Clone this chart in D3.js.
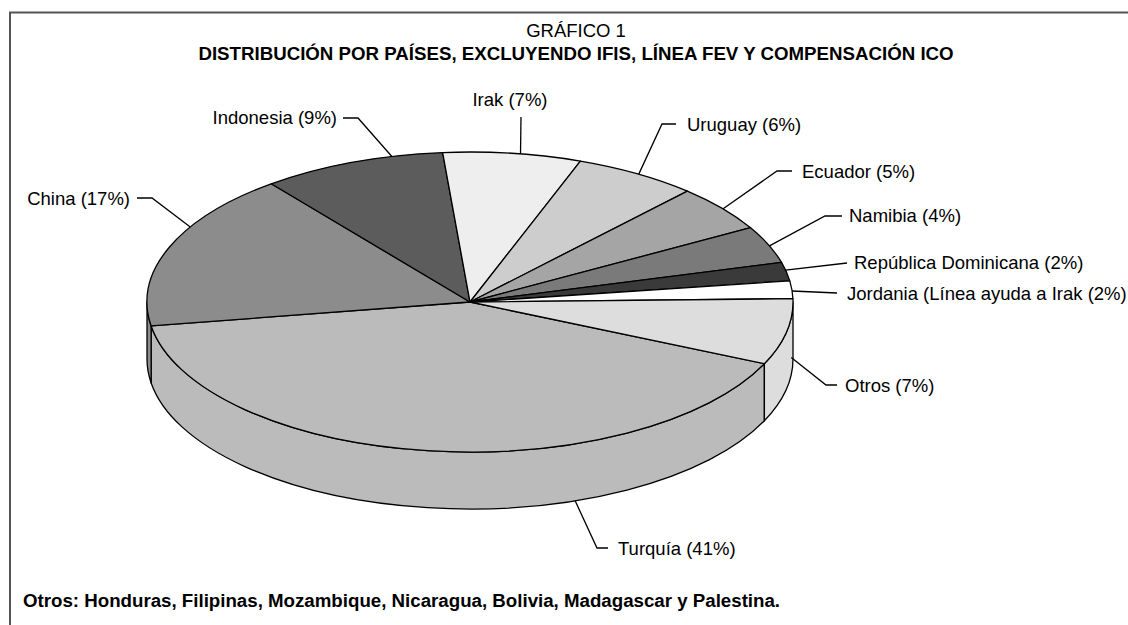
<!DOCTYPE html>
<html>
<head>
<meta charset="utf-8">
<script src="https://cdn.jsdelivr.net/npm/d3@7"></script>
<style>
  body { margin: 0; background: #fff; }
  text { font-family: "Liberation Sans", Arial, sans-serif; fill: #000; }
</style>
</head>
<body>
<svg id="chart" width="1128" height="625"></svg>
<script>
'use strict'

// data
const countries = ['Turquía', 'China', 'Indonesia', 'Irak', 'Uruguay', 'Ecuador', 'Namibia',
                   'República Dominicana', 'Jordania (Línea ayuda a Irak', 'Otros']
const shares = [40.7, 17.0, 9.2, 6.9, 6.2, 5.0, 4.0, 2.0, 1.9, 7.1]
const shareLabels = [41, 17, 9, 7, 6, 5, 4, 2, 2, 7]
const greys = ['#bbbbbb', '#8c8c8c', '#5c5c5c', '#eeeeee', '#cdcdcd', '#a5a5a5', '#7a7a7a', '#3a3a3a', '#ffffff', '#dddddd']

// label placement (anchor = angle on the rim in degrees, z = fraction of the side wall)
const labelLayout = [
  {anchor: 71,    z: 1,   pts: [[597, 548], [608, 548]], tx: 618, ty: 555, ta: 'start'},
  {anchor: 210,   z: 0,   pts: [[152, 198], [137, 198]], tx: 130, ty: 205, ta: 'end'},
  {anchor: 256,   z: 0,   pts: [[358, 118], [343, 118]], tx: 337, ty: 124, ta: 'end'},
  {anchor: 279,   z: 0,   pts: [[521, 117]],             tx: 510, ty: 106, ta: 'middle'},
  {anchor: 301.5, z: 0,   pts: [[662, 124], [676, 124]], tx: 687, ty: 131, ta: 'start'},
  {anchor: 321.6, z: 0,   pts: [[777, 171], [792, 171]], tx: 802, ty: 178, ta: 'start'},
  {anchor: 338,   z: 0,   pts: [[825, 216], [842, 216]], tx: 849, ty: 222, ta: 'start'},
  {anchor: 347.7, z: 0,   pts: [[847, 263]],             tx: 854, ty: 269, ta: 'start'},
  {anchor: 355.8, z: 0,   pts: [[837, 293]],             tx: 847, ty: 300, ta: 'start'},
  {anchor: 6,     z: 0.7, pts: [[826, 385], [837, 385]], tx: 845, ty: 392, ta: 'start'}
]

const cx = 470, cy = 302, rx = 323, ry = 150, depth = 57
const rad = d => d * Math.PI / 180
const startDeg = 114.3 // d3.pie angle (from 12 o'clock) where Turquía begins

const svg = d3.select('#chart')

const color = d3.scaleOrdinal().domain(countries).range(greys)

const pie = d3.pie()
  .sort(null)
  .value(d => d.value)
  .startAngle(rad(startDeg))
  .endAngle(rad(startDeg) + 2 * Math.PI)

const slices = pie(countries.map((c, i) => ({name: c, value: shares[i], pct: shareLabels[i]})))
// screen angle: 0 = east, clockwise
slices.forEach(s => { s.t0 = s.startAngle - Math.PI / 2; s.t1 = s.endAngle - Math.PI / 2 })

const pt = (t, z = 0) => [cx + rx * Math.cos(t), cy + ry * Math.sin(t) + z]

function topPath(s) {
  const a = pt(s.t0), b = pt(s.t1)
  const large = (s.t1 - s.t0) > Math.PI ? 1 : 0
  return `M${cx},${cy}L${a}A${rx},${ry} 0 ${large} 1 ${b}Z`
}

function sidePieces(s) {
  const out = []
  for (const k of [-1, 0, 1]) {
    const lo = Math.max(s.t0, 2 * Math.PI * k), hi = Math.min(s.t1, 2 * Math.PI * k + Math.PI)
    if (hi > lo) out.push({data: s.data, s0: lo, s1: hi})
  }
  return out
}

function sidePath(p) {
  const a = pt(p.s0), b = pt(p.s1), c = pt(p.s1, depth), d = pt(p.s0, depth)
  return `M${a}A${rx},${ry} 0 0 1 ${b}L${c}A${rx},${ry} 0 0 0 ${d}Z`
}

// frame
svg.append('path')
  .attr('d', 'M10,625V12.5H1128')
  .attr('fill', 'none')
  .attr('stroke', '#555')
  .attr('stroke-width', 2)

// titles
svg.append('text')
  .attr('x', 576).attr('y', 37)
  .attr('text-anchor', 'middle')
  .style('font-size', '18.5px')
  .text('GRÁFICO 1')

svg.append('text')
  .attr('x', 576).attr('y', 60)
  .attr('text-anchor', 'middle')
  .style('font-size', '18.7px')
  .style('font-weight', 'bold')
  .text('DISTRIBUCIÓN POR PAÍSES, EXCLUYENDO IFIS, LÍNEA FEV Y COMPENSACIÓN ICO')

const pieG = svg.append('g')

// side walls (front half only)
pieG.selectAll('.side')
  .data(slices.flatMap(sidePieces))
  .join('path')
    .attr('class', 'side')
    .attr('d', sidePath)
    .attr('fill', d => color(d.data.name))
    .attr('stroke', '#000')
    .attr('stroke-width', 1.3)
    .attr('stroke-linejoin', 'round')

// top faces
pieG.selectAll('.top')
  .data(slices)
  .join('path')
    .attr('class', 'top')
    .attr('d', topPath)
    .attr('fill', d => color(d.data.name))
    .attr('stroke', '#000')
    .attr('stroke-width', 1.3)
    .attr('stroke-linejoin', 'round')

// leader lines and labels
const labelG = svg.append('g')
slices.forEach((s, i) => {
  const L = labelLayout[i]
  const start = pt(rad(L.anchor), L.z * depth)
  labelG.append('path')
    .attr('d', d3.line()([start, ...L.pts]))
    .attr('fill', 'none')
    .attr('stroke', '#000')
    .attr('stroke-width', 1.3)
  labelG.append('text')
    .attr('x', L.tx).attr('y', L.ty)
    .attr('text-anchor', L.ta)
    .style('font-size', '18.5px')
    .text(`${s.data.name} (${s.data.pct}%)`)
})

// footnote
svg.append('text')
  .attr('x', 23).attr('y', 607)
  .style('font-size', '18.7px')
  .style('font-weight', 'bold')
  .text('Otros: Honduras, Filipinas, Mozambique, Nicaragua, Bolivia, Madagascar y Palestina.')
</script>
</body>
</html>
